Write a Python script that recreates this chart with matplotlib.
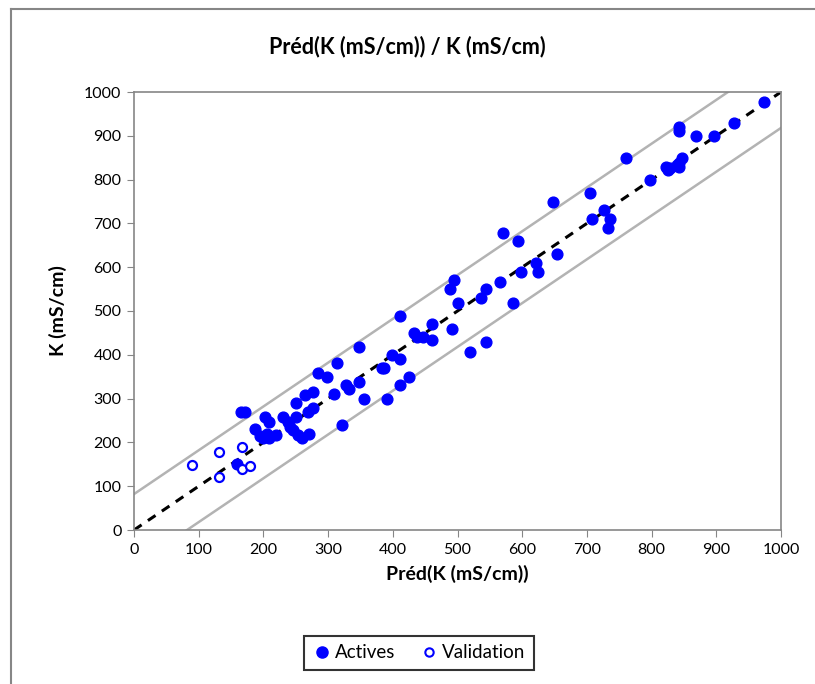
import matplotlib
matplotlib.use("Agg")
import matplotlib.pyplot as plt
from matplotlib.lines import Line2D

plt.rcParams["font.family"] = ["Lato", "DejaVu Sans"]

# Actives: predicted vs measured K (mS/cm)
act_pred = [159, 166, 172, 187, 195, 200, 205, 208, 202, 208, 219, 231, 238, 241, 246,
            250, 251, 254, 259, 271, 269, 277, 264, 277, 285, 299, 309, 313, 321, 328,
            333, 347, 347, 355, 383, 386, 391, 398, 411, 411, 411, 425, 433, 438, 446,
            461, 461, 488, 494, 491, 501, 519, 537, 544, 544, 566, 571, 586, 593, 598,
            621, 625, 648, 654, 705, 708, 726, 732, 736, 760, 797, 823, 826, 828, 839,
            842, 843, 847, 842, 843, 869, 897, 927, 974]
act_obs = [151, 270, 270, 230, 215, 210, 220, 210, 259, 247, 218, 259, 247, 236, 228,
           289, 259, 217, 209, 219, 270, 278, 308, 316, 358, 350, 310, 382, 240, 331,
           321, 418, 339, 300, 370, 370, 300, 399, 489, 390, 330, 350, 450, 440, 440,
           470, 434, 550, 570, 460, 519, 406, 529, 550, 430, 567, 679, 519, 660, 589,
           609, 590, 750, 629, 770, 709, 731, 689, 709, 850, 799, 829, 822, 827, 833,
           921, 912, 850, 839, 829, 900, 900, 929, 978]

# Validation set
val_pred = [90, 131, 131, 167, 167, 179]
val_obs = [149, 179, 120, 189, 139, 145]

diag = [0, 1000]
band = 82

fig = plt.figure(figsize=(8.15, 6.84), dpi=100)
ax = fig.add_axes([134 / 815, 1 - 530 / 684, (781 - 134) / 815, (530 - 92) / 684])

grey = "#868686"
ax.plot(diag, [d + band for d in diag], color="#b3b3b3", lw=1.8, zorder=1)
ax.plot(diag, [d - band for d in diag], color="#b3b3b3", lw=1.8, zorder=1)
ax.plot(diag, diag, color="black", lw=2.2, ls=(0, (3, 2.5)), zorder=2)

ax.scatter(act_pred, act_obs, s=60, color="#0000ff", zorder=3)
ax.scatter(val_pred, val_obs, s=42, facecolors="white", edgecolors="#0000ff",
           linewidths=1.6, zorder=3)

ax.set_xlim(0, 1000)
ax.set_ylim(0, 1000)
ax.set_xticks(range(0, 1001, 100))
ax.set_yticks(range(0, 1001, 100))
ax.tick_params(direction="out", length=5, color=grey, labelsize=11.5, pad=4)
for s in ax.spines.values():
    s.set_color(grey)
    s.set_linewidth(1.2)

ax.set_xlabel("Préd(K (mS/cm))", fontsize=14, fontweight="bold", labelpad=6)
ax.set_ylabel("K (mS/cm)", fontsize=14, fontweight="bold", labelpad=12)
fig.text(0.5, 1 - 47 / 684, "Préd(K (mS/cm)) / K (mS/cm)", ha="center", va="center",
         fontsize=15.5, fontweight="bold")

handles = [Line2D([], [], ls="", marker="o", ms=8, color="#0000ff"),
           Line2D([], [], ls="", marker="o", ms=6, mfc="white", mec="#0000ff", mew=1.5)]
leg = fig.legend(handles, ["Actives", "Validation"], loc="center",
                 bbox_to_anchor=(419 / 815, 1 - 653 / 684), ncol=2, fontsize=13.5,
                 frameon=True, fancybox=False, handletextpad=0.2, columnspacing=1.3,
                 handlelength=1.0, borderpad=0.45)
leg.get_frame().set_edgecolor("black")
leg.get_frame().set_linewidth(1.5)

# outer chart frame
fig.add_artist(Line2D([11 / 815, 11 / 815], [0, 1 - 9 / 684], color=grey, lw=1.5,
                      transform=fig.transFigure))
fig.add_artist(Line2D([11 / 815, 1], [1 - 9 / 684, 1 - 9 / 684], color=grey, lw=1.5,
                      transform=fig.transFigure))

fig.savefig("out.png", dpi=100)
